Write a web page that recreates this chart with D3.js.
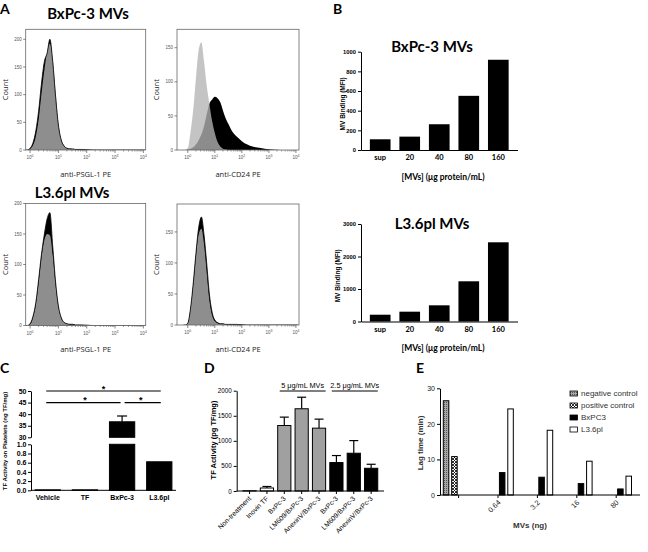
<!DOCTYPE html>
<html>
<head>
<meta charset="utf-8">
<script src="https://cdn.jsdelivr.net/npm/d3@7"></script>
<style>
  body { margin: 0; background: #fff; }
  svg { display: block; }
</style>
</head>
<body>
<svg id="fig" width="648" height="552"></svg>
<script>
// ---------- data ----------
// flow cytometry bins (fluorescence, PE channel) and event counts
const histBins = [0.7, 0.8, 1, 1.25, 1.6, 2, 2.5, 3.2, 4, 5, 6.3, 8, 10, 12.6, 16, 20, 25, 32, 40, 63, 100, 160, 250, 500, 1000, 3000, 12000];
const bxPsglIso = [0, 0, 2, 8, 25, 55, 100, 145, 178, 192, 165, 105, 50, 20, 8, 4, 3, 2, 2, 1, 1, 0.5, 0, 0, 0, 0, 0];
const bxPsgl    = [0, 0, 3, 12, 35, 70, 118, 160, 175, 200, 160, 95, 45, 18, 7, 3, 2, 2, 1, 1, 0.5, 0, 0, 0, 0, 0, 0];
const bxCd24Iso = [0, 0, 3, 25, 60, 105, 145, 158, 130, 95, 68, 42, 25, 12, 5, 2, 1, 0, 0, 0, 0, 0, 0, 0, 0, 0, 0];
const bxCd24    = [0, 0, 1, 2, 4, 8, 14, 23, 35, 52, 68, 74, 78, 76, 70, 58, 47, 38, 30, 20, 13, 8, 5, 3, 1, 0, 0];
const l3PsglIso = [0, 0, 2, 12, 35, 70, 110, 140, 150, 148, 115, 65, 30, 12, 5, 3, 2, 2, 1, 1, 0.5, 0, 0, 0, 0, 0, 0];
const l3Psgl    = [0, 0, 3, 14, 38, 75, 115, 150, 175, 185, 130, 70, 32, 13, 5, 3, 2, 2, 1, 1, 0.5, 0, 0, 0, 0, 0, 0];
const l3Cd24Iso = [0, 0, 3, 25, 65, 110, 145, 155, 130, 85, 40, 15, 6, 3, 2, 2, 1, 1, 1, 1, 0.5, 0, 0, 0, 0, 0, 0];
const l3Cd24    = [0, 0, 3, 25, 68, 115, 155, 174, 145, 100, 50, 20, 8, 4, 2, 2, 1, 1, 1, 1, 0.5, 0, 0, 0, 0, 0, 0];

// B: MV binding (MFI)
const bindCats = ["sup", "20", "40", "80", "160"];
const bxBinding = [109, 136, 262, 551, 918];
const l3Binding = [209, 302, 498, 1237, 2437];
const bxBindTicks = [0, 200, 400, 600, 800, 1000];
const l3BindTicks = [0, 1000, 2000, 3000];

// C: TF activity on platelets
const cCats = ["Vehicle", "TF", "BxPc-3", "L3.6pl"];
const cValues = [0.01, 0.01, 36.7, 0.62];
const cErrors = [0, 0, 2.5, 0];
const cLowTicks = [0, 0.2, 0.4, 0.6, 0.8, 1.0];
const cHighTicks = [30, 35, 40, 45, 50];
const cSig = [["Vehicle", "L3.6pl", 50], ["Vehicle", "BxPc-3", 45], ["BxPc-3", "L3.6pl", 45]];

// D: TF activity (pg TF/mg)
const dLabels = ["Non-treatment", "Inovin TF", "BxPc-3", "LM609/BxPc-3", "AnexinV/BxPc-3", "BxPc-3", "LM609/BxPc-3", "AnexinV/BxPc-3"];
const dGroups = ["ctrl", "ctrl", "5", "5", "5", "2.5", "2.5", "2.5"];
const dValues = [5, 60, 1306, 1640, 1253, 567, 753, 453];
const dErrors = [0, 30, 167, 230, 180, 140, 252, 80];
const dTicks = [0, 500, 1000, 1500, 2000];
const dBrackets = [["5 μg/mL MVs", 2, 4], ["2.5 μg/mL MVs", 5, 7]];

// E: lag time (min)
const eDoses = ["", "0.64", "3.2", "16", "80"];
const eSeries = ["negative control", "positive control", "BxPC3", "L3.6pl"];
const eNegative = [26.5, null, null, null, null];
const ePositive = [10.8, null, null, null, null];
const eBxpc3 = [null, 6.3, 5.0, 3.2, 1.7];
const eL36pl = [null, 24.2, 18.2, 9.5, 5.3];
const eTicks = [0, 10, 20, 30];

// ---------- setup ----------
const SANS = "'Liberation Sans', Arial, sans-serif";
const CAL = "Lato, 'Open Sans', sans-serif";
const svg = d3.select("#fig");
const defs = svg.append("defs");

function text(x, y, str, size, o = {}) {
  const t = svg.append("text")
    .attr("x", x).attr("y", y)
    .attr("font-family", o.family || SANS)
    .attr("font-size", size)
    .attr("font-weight", o.bold ? "bold" : "normal")
    .attr("text-anchor", o.anchor || "start")
    .attr("fill", o.fill || "#000")
    .text(str);
  if (o.rotate) t.attr("transform", `rotate(${o.rotate},${x},${y})`);
  return t;
}

function styleAxis(g, size, bold) {
  g.selectAll("text")
    .attr("font-family", SANS)
    .attr("font-size", size)
    .attr("font-weight", bold ? "bold" : "normal")
    .attr("fill", "#000");
  g.selectAll("line, path").attr("stroke", "#000").attr("stroke-width", 1);
}

// ---------- A: histograms ----------
function histogram(o) {
  const x = d3.scaleLog().domain(o.xDomain).range([o.left, o.right]);
  const y = d3.scaleLinear().domain([0, o.yMax]).range([o.bottom, o.top]);
  const g = svg.append("g");

  defs.append("clipPath").attr("id", o.id)
    .append("rect")
    .attr("x", o.left).attr("y", o.top)
    .attr("width", o.right - o.left).attr("height", o.bottom - o.top);

  const area = d3.area()
    .x((d, i) => x(histBins[i]))
    .y0(y(0))
    .y1(d => y(d))
    .curve(d3.curveMonotoneX);

  const plot = g.append("g").attr("clip-path", `url(#${o.id})`);
  plot.append("path").attr("d", area(o.stain)).attr("fill", "#000");
  plot.append("path").attr("d", area(o.iso))
    .attr("fill", o.isoFill)
    .attr("fill-opacity", o.isoOpacity);
  if (o.outline) {
    plot.append("path").attr("d", area.lineY1()(o.stain))
      .attr("fill", "none").attr("stroke", "#000").attr("stroke-width", 0.8);
  }

  g.append("rect")
    .attr("x", o.left).attr("y", o.top)
    .attr("width", o.right - o.left).attr("height", o.bottom - o.top)
    .attr("fill", "none").attr("stroke", "#666").attr("stroke-width", 0.8);

  // log ticks
  const major = [1, 10, 100, 1000, 10000];
  const minor = [];
  major.slice(0, 4).forEach(m => d3.range(2, 10).forEach(k => minor.push(m * k)));
  g.selectAll(".mn").data(minor).join("line")
    .attr("x1", d => x(d)).attr("x2", d => x(d))
    .attr("y1", o.bottom).attr("y2", o.bottom + 1.5)
    .attr("stroke", "#555").attr("stroke-width", 0.6);
  g.selectAll(".mj").data(major).join("line")
    .attr("x1", d => x(d)).attr("x2", d => x(d))
    .attr("y1", o.bottom).attr("y2", o.bottom + 3)
    .attr("stroke", "#555").attr("stroke-width", 0.7);
  major.forEach((m, i) => {
    const t = g.append("text")
      .attr("x", x(m)).attr("y", o.bottom + 9)
      .attr("text-anchor", "middle")
      .attr("font-family", SANS).attr("font-size", 4.5).attr("fill", "#555")
      .text("10");
    t.append("tspan").attr("dy", -2).attr("font-size", 3.5).text(i);
  });

  g.selectAll(".yt").data(o.yTicks).join("line")
    .attr("x1", o.left - 2.5).attr("x2", o.left)
    .attr("y1", d => y(d)).attr("y2", d => y(d))
    .attr("stroke", "#555").attr("stroke-width", 0.7);
  g.selectAll(".yl").data(o.yTicks).join("text")
    .attr("x", o.left - 4).attr("y", d => y(d) + 1.6)
    .attr("text-anchor", "end")
    .attr("font-family", SANS).attr("font-size", 4.5).attr("fill", "#555")
    .text(d => d);

  text(o.left - 18, (o.top + o.bottom) / 2, "Count", 7.5,
    { family: "'Open Sans', sans-serif", anchor: "middle", rotate: -90, fill: "#222" });
  text((o.left + o.right) / 2, o.labelY, o.xLabel, 7.5,
    { family: "'Open Sans', sans-serif", anchor: "middle", fill: "#222" });
}

const leftDom = [0.7, 12100];
const rightDom = [0.4, 13000];

histogram({ id: "h1", left: 25.7, right: 145.7, top: 29.3, bottom: 150, xDomain: leftDom,
  yMax: 218, yTicks: [0, 50, 100, 150, 200], iso: bxPsglIso, stain: bxPsgl,
  isoFill: "#8e8e8e", isoOpacity: 1, outline: true, xLabel: "anti-PSGL-1 PE", labelY: 177 });
histogram({ id: "h2", left: 177, right: 299, top: 29.3, bottom: 150, xDomain: rightDom,
  yMax: 177, yTicks: [0, 50, 100, 150], iso: bxCd24Iso, stain: bxCd24,
  isoFill: "#b3b3b3", isoOpacity: 0.78, outline: false, xLabel: "anti-CD24 PE", labelY: 177 });
histogram({ id: "h3", left: 25.7, right: 145.7, top: 203.5, bottom: 325.5, xDomain: leftDom,
  yMax: 200, yTicks: [0, 50, 100, 150, 200], iso: l3PsglIso, stain: l3Psgl,
  isoFill: "#8e8e8e", isoOpacity: 1, outline: true, xLabel: "anti-PSGL-1 PE", labelY: 352 });
histogram({ id: "h4", left: 177, right: 299, top: 204, bottom: 325, xDomain: rightDom,
  yMax: 195, yTicks: [0, 50, 100, 150], iso: l3Cd24Iso, stain: l3Cd24,
  isoFill: "#8e8e8e", isoOpacity: 1, outline: true, xLabel: "anti-CD24 PE", labelY: 352 });

text(88, 19, "BxPc-3 MVs", 15, { family: CAL, bold: true, anchor: "middle" });
text(72, 198, "L3.6pl MVs", 15, { family: CAL, bold: true, anchor: "middle" });

// ---------- B: binding bars ----------
function bindingPanel(o) {
  const x = d3.scaleBand().domain(bindCats).range([361, 517.5]).paddingInner(0.3).paddingOuter(0.3);
  const y = d3.scaleLinear().domain([0, o.max]).range([o.zeroY, o.topY]);
  const g = svg.append("g");

  g.selectAll("rect").data(o.values).join("rect")
    .attr("x", (d, i) => x(bindCats[i]))
    .attr("y", d => y(d))
    .attr("width", x.bandwidth())
    .attr("height", d => y(0) - y(d))
    .attr("fill", "#000");

  const ya = g.append("g").attr("transform", "translate(361,0)")
    .call(d3.axisLeft(y).tickValues(o.ticks).tickFormat(d3.format("d")).tickSize(3).tickSizeOuter(0).tickPadding(2));
  styleAxis(ya, 5.8, true);
  const xa = g.append("g").attr("transform", `translate(0,${o.zeroY})`)
    .call(d3.axisBottom(x).tickSize(0).tickPadding(5));
  styleAxis(xa, 6.5, true);
  xa.selectAll("text").attr("font-family", CAL).attr("font-size", 7.5);

  text(o.ylabelX, (o.zeroY + o.topY) / 2 + 3, "MV  Binding (MFI)", 6.5, { bold: true, anchor: "middle", rotate: -90 });
  text(443, o.xlabelY, "[MVs] (μg protein/mL)", 8.5, { family: CAL, bold: true, anchor: "middle" });
  text(432, o.titleY, o.title, 15, { family: CAL, bold: true, anchor: "middle" });
}

bindingPanel({ values: bxBinding, max: 1000, ticks: bxBindTicks, zeroY: 150, topY: 51.7,
  ylabelX: 345, xlabelY: 180, titleY: 52, title: "BxPc-3 MVs" });
bindingPanel({ values: l3Binding, max: 3000, ticks: l3BindTicks, zeroY: 321.5, topY: 224,
  ylabelX: 340, xlabelY: 351, titleY: 229, title: "L3.6pl MVs" });

// ---------- C: broken axis bars ----------
(function() {
  const x = d3.scaleBand().domain(cCats).range([31, 176]).paddingInner(0.32).paddingOuter(0.11);
  const yLow = d3.scaleLinear().domain([0, 1]).range([490.3, 444.3]);
  const yHigh = d3.scaleLinear().domain([30, 50]).range([437.3, 391]);
  const g = svg.append("g");

  cValues.forEach((v, i) => {
    const x0 = x(cCats[i]);
    g.append("rect")
      .attr("x", x0).attr("y", yLow(Math.min(v, 1)))
      .attr("width", x.bandwidth()).attr("height", yLow(0) - yLow(Math.min(v, 1)))
      .attr("fill", "#000").attr("stroke", "#000").attr("stroke-width", 1);
    if (v > 30) {
      g.append("rect")
        .attr("x", x0).attr("y", yHigh(v))
        .attr("width", x.bandwidth()).attr("height", yHigh(30) - yHigh(v))
        .attr("fill", "#000").attr("stroke", "#000").attr("stroke-width", 1);
    }
    if (cErrors[i] > 0) {
      const cx = x0 + x.bandwidth() / 2;
      g.append("line").attr("x1", cx).attr("x2", cx)
        .attr("y1", yHigh(v)).attr("y2", yHigh(v + cErrors[i]))
        .attr("stroke", "#000").attr("stroke-width", 1.2);
      g.append("line").attr("x1", cx - 5).attr("x2", cx + 5)
        .attr("y1", yHigh(v + cErrors[i])).attr("y2", yHigh(v + cErrors[i]))
        .attr("stroke", "#000").attr("stroke-width", 1.2);
    }
  });

  const aLow = g.append("g").attr("transform", "translate(31,0)")
    .call(d3.axisLeft(yLow).tickValues(cLowTicks).tickFormat(d3.format(".1f")).tickSize(3).tickSizeOuter(0).tickPadding(1.5));
  styleAxis(aLow, 7, true);
  const aHigh = g.append("g").attr("transform", "translate(31,0)")
    .call(d3.axisLeft(yHigh).tickValues(cHighTicks).tickSize(3).tickSizeOuter(0).tickPadding(1.5));
  styleAxis(aHigh, 7, true);

  g.append("line").attr("x1", 31).attr("x2", 176).attr("y1", yLow(0)).attr("y2", yLow(0))
    .attr("stroke", "#000").attr("stroke-width", 1);
  cCats.forEach(c => text(x(c) + x.bandwidth() / 2, 500, c, 7, { bold: true, anchor: "middle" }));

  // significance bars
  cSig.forEach(([a, b, lvl]) => {
    const x1 = x(a) + x.bandwidth() / 2 - 1.5;
    const x2 = x(b) + x.bandwidth() / 2 + 1.5;
    const yy = yHigh(lvl);
    g.append("line").attr("x1", x1 + (a === "BxPc-3" ? 4 : 0)).attr("x2", x2 - (b === "BxPc-3" ? 3 : 0))
      .attr("y1", yy).attr("y2", yy).attr("stroke", "#000").attr("stroke-width", 1.2);
    text((x1 + x2) / 2, yy + 0.5, "*", 9, { bold: true, anchor: "middle" });
  });

  text(7, 441, "TF Activity on  Platelets (ng TF/mg)", 6, { bold: true, anchor: "middle", rotate: -90 });
  text(0, 373, "C", 14, { family: CAL, bold: true });
})();

// ---------- D: TF activity ----------
(function() {
  const idx = d3.range(dValues.length);
  const x = d3.scaleBand().domain(idx).range([236.7, 384]).paddingInner(0.24).paddingOuter(0.36);
  const y = d3.scaleLinear().domain([0, 2000]).range([491, 390.7]);
  const fill = d3.scaleOrdinal().domain(["ctrl", "5", "2.5"]).range(["#fff", "#a0a0a0", "#000"]);
  const g = svg.append("g");

  g.selectAll(".err").data(idx.filter(i => dErrors[i] > 0)).join("g").each(function(i) {
    const cx = x(i) + x.bandwidth() / 2;
    const top = y(dValues[i] + dErrors[i]);
    d3.select(this).append("line").attr("x1", cx).attr("x2", cx)
      .attr("y1", y(dValues[i])).attr("y2", top).attr("stroke", "#000").attr("stroke-width", 1.2);
    d3.select(this).append("line").attr("x1", cx - 4.5).attr("x2", cx + 4.5)
      .attr("y1", top).attr("y2", top).attr("stroke", "#000").attr("stroke-width", 1.2);
  });

  g.selectAll("rect").data(idx).join("rect")
    .attr("x", i => x(i)).attr("y", i => y(dValues[i]))
    .attr("width", x.bandwidth()).attr("height", i => y(0) - y(dValues[i]))
    .attr("fill", i => fill(dGroups[i]))
    .attr("stroke", "#000").attr("stroke-width", 1);

  const ya = g.append("g").attr("transform", "translate(236.7,0)")
    .call(d3.axisLeft(y).tickValues(dTicks).tickFormat(d3.format("d")).tickSize(3).tickSizeOuter(0).tickPadding(2));
  styleAxis(ya, 6.3, false);
  const xa = g.append("g").attr("transform", `translate(0,${y(0)})`)
    .call(d3.axisBottom(x).tickSize(3).tickSizeOuter(0).tickFormat(""));
  styleAxis(xa, 6.5, false);
  xa.select(".domain").attr("d", `M236.7,0H384`);

  idx.forEach(i => text(x(i) + x.bandwidth() / 2 + 2, 499, dLabels[i], 6.8, { anchor: "end", rotate: -45 }));

  dBrackets.forEach(([lab, a, b]) => {
    const x1 = x(a) + 2, x2 = x(b) + x.bandwidth();
    g.append("line").attr("x1", x1).attr("x2", x2).attr("y1", 391).attr("y2", 391)
      .attr("stroke", "#000").attr("stroke-width", 1);
    text((x1 + x2) / 2, 388, lab, 7.3, { anchor: "middle" });
  });

  text(216, 440, "TF Activity (pg TF/mg)", 7.5, { bold: true, anchor: "middle", rotate: -90 });
  text(204, 373, "D", 14, { family: CAL, bold: true });
})();

// ---------- E: lag time ----------
(function() {
  const x = d3.scaleBand().domain(eDoses).range([443.3, 631.5]).paddingInner(0.223).paddingOuter(0);
  const xs = d3.scaleBand().domain(eSeries).range([0, x.bandwidth()]).paddingInner(0.34).paddingOuter(0);
  const y = d3.scaleLinear().domain([0, 30]).range([495, 388.3]);

  const negPat = defs.append("pattern").attr("id", "negPat").attr("patternUnits", "userSpaceOnUse")
    .attr("width", 2).attr("height", 2);
  negPat.append("rect").attr("width", 2).attr("height", 2).attr("fill", "#a8a8a8");
  negPat.append("rect").attr("width", 1).attr("height", 1).attr("fill", "#555");
  const posPat = defs.append("pattern").attr("id", "posPat").attr("patternUnits", "userSpaceOnUse")
    .attr("width", 3).attr("height", 3);
  posPat.append("rect").attr("width", 3).attr("height", 3).attr("fill", "#fff");
  posPat.append("path").attr("d", "M0,0L3,3M3,0L0,3").attr("stroke", "#000").attr("stroke-width", 0.8);

  const fill = d3.scaleOrdinal().domain(eSeries).range(["url(#negPat)", "url(#posPat)", "#000", "#fff"]);
  const series = [eNegative, ePositive, eBxpc3, eL36pl];
  const g = svg.append("g");

  series.forEach((vals, s) => {
    g.selectAll(null).data(vals.map((v, i) => ({ v, i })).filter(d => d.v != null)).join("rect")
      .attr("x", d => x(eDoses[d.i]) + xs(eSeries[s]))
      .attr("y", d => y(d.v))
      .attr("width", xs.bandwidth())
      .attr("height", d => y(0) - y(d.v))
      .attr("fill", fill(eSeries[s]))
      .attr("stroke", "#000").attr("stroke-width", 1);
  });

  const ya = g.append("g").attr("transform", "translate(440,0)")
    .call(d3.axisLeft(y).tickValues(eTicks).tickSize(3).tickSizeOuter(0).tickPadding(2));
  styleAxis(ya, 7, false);
  ya.selectAll("text").attr("fill", "#222");
  g.append("line").attr("x1", 440).attr("x2", 640).attr("y1", y(0)).attr("y2", y(0))
    .attr("stroke", "#000").attr("stroke-width", 1);
  eDoses.forEach(d => {
    const cx = x(d) + x.bandwidth() / 2;
    g.append("line").attr("x1", cx).attr("x2", cx).attr("y1", y(0)).attr("y2", y(0) + 3)
      .attr("stroke", "#000").attr("stroke-width", 1);
    if (d) text(cx + 3, 503, d, 7.3, { anchor: "end", rotate: -45, fill: "#222" });
  });

  // legend
  eSeries.forEach((s, i) => {
    const ly = 393.5 + i * 12;
    g.append("rect").attr("x", 570).attr("y", ly - 2.5).attr("width", 7.5).attr("height", 5)
      .attr("fill", fill(s)).attr("stroke", "#000").attr("stroke-width", 0.8);
    text(581, ly + 2.8, s, 8, { fill: "#333" });
  });

  text(423, 443, "Lag time (min)", 8, { bold: true, anchor: "middle", rotate: -90, fill: "#333" });
  text(530, 528, "MVs (ng)", 8, { bold: true, anchor: "middle", fill: "#333" });
  text(416, 373, "E", 14, { family: CAL, bold: true });
})();

text(0, 14, "A", 14, { family: CAL, bold: true });
text(333, 14, "B", 14, { family: CAL, bold: true });
</script>
</body>
</html>
